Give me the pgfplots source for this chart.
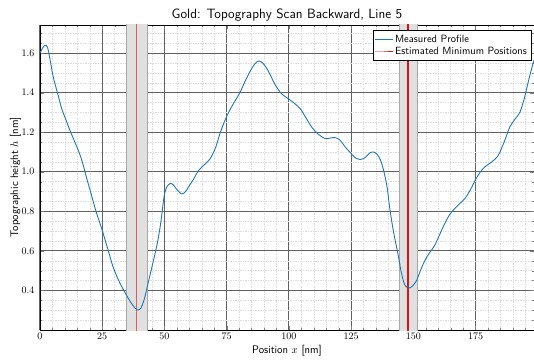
\documentclass[border=0pt]{standalone}
\usepackage{pgfplots}
\pgfplotsset{compat=1.18}
\definecolor{profileblue}{HTML}{1F77B4}
\definecolor{minredA}{HTML}{E05A5A}
\definecolor{minredB}{HTML}{E01010}
\definecolor{bandfill}{HTML}{E0E0E0}
\definecolor{bandedge}{HTML}{A8A8A8}
\begin{document}
\begin{tikzpicture}
\begin{axis}[
  scale only axis,
  width=494pt, height=305pt,
  xmin=0, xmax=198.5,
  ymin=0.2, ymax=1.742,
  xtick={0,25,50,75,100,125,150,175},
  ytick={0.4,0.6,0.8,1.0,1.2,1.4,1.6},
  minor xtick={5,10,15,20,30,35,40,45,55,60,65,70,80,85,90,95,105,110,115,120,
    130,135,140,145,155,160,165,170,180,185,190,195},
  minor ytick={0.25,0.3,0.35,0.45,0.5,0.55,0.65,0.7,0.75,0.85,0.9,0.95,
    1.05,1.1,1.15,1.25,1.3,1.35,1.45,1.5,1.55,1.65,1.7},
  yticklabel style={xshift=-2pt, /pgf/number format/fixed,
    /pgf/number format/fixed zerofill, /pgf/number format/precision=1},
  tick align=inside,
  major tick length=4pt, minor tick length=2pt,
  xtick pos=both, ytick pos=both,
  tick label style={font=\fontsize{10}{12}\selectfont},
  grid=both,
  major grid style={black!62, line width=1pt},
  minor grid style={black!13, dash pattern=on 1.5pt off 1pt, line width=0.4pt},
  axis line style={black, line width=0.8pt},
  title={\sffamily\fontsize{13.5}{16}\selectfont Gold: Topography Scan Backward, Line 5},
  title style={yshift=-6pt},
  xlabel={\sffamily\fontsize{11}{13}\selectfont Position $x$ [nm]},
  ylabel={\sffamily\fontsize{11}{13}\selectfont Topographic height $h$ [nm]},
  xlabel style={yshift=2pt},
  ylabel style={yshift=-6pt},
  legend style={at={(rel axis cs:0.994,0.982)}, anchor=north east,
    font=\sffamily\fontsize{10.5}{12}\selectfont,
    fill=white, inner sep=2pt, row sep=0pt},
  legend cell align=left,
]
% uncertainty bands around the estimated minima
\addplot[forget plot, draw=bandedge, line width=1pt, fill=bandfill]
  coordinates {(34.8,0) (34.8,2) (43.1,2) (43.1,0) (34.8,0)};
\addplot[forget plot, draw=bandedge, line width=1pt, fill=bandfill]
  coordinates {(144.3,0) (144.3,2) (151.6,2) (151.6,0) (144.3,0)};
% estimated minimum positions
\addplot[forget plot, minredA, line width=1.3pt] coordinates {(38.9,0) (38.9,2)};
\addplot[forget plot, minredB, line width=1.2pt] coordinates {(147.9,0) (147.9,2)};
% measured profile
\addplot[profileblue, line width=0.9pt, smooth] coordinates {
  (0,1.60) (1,1.625) (2,1.64) (3,1.63) (4,1.57) (5.3,1.48) (7,1.40) (8.7,1.32)
  (10.5,1.26) (12,1.21) (14,1.15) (15.5,1.105) (17,1.05) (18.7,0.97) (20.5,0.89)
  (22.5,0.80) (24.8,0.712) (27,0.62) (29.4,0.518) (32,0.44) (34.8,0.375) (37,0.33)
  (39,0.302) (40.5,0.31) (42,0.36) (43.5,0.44) (45,0.52) (47,0.63) (48.5,0.74)
  (49.8,0.87) (50.8,0.92) (52.2,0.94) (53.5,0.935) (55,0.91) (56.9,0.888) (58.5,0.90)
  (60,0.93) (61.6,0.96) (63.6,1.005) (66,1.035) (68.3,1.065) (70.5,1.12)
  (72.5,1.20) (75,1.28) (77.5,1.34) (80.3,1.40) (82.5,1.46) (84.5,1.51) (86.5,1.548)
  (88,1.56) (89.5,1.55) (91,1.525) (92.5,1.49) (94.5,1.44) (97,1.395) (99.7,1.37)
  (102,1.348) (104.5,1.32) (107,1.27) (109.5,1.22) (111.8,1.19) (114.5,1.168)
  (116.5,1.17) (118.5,1.173) (120.5,1.16) (123,1.12) (125.2,1.09) (127,1.068)
  (128.5,1.062) (130.5,1.07) (132.5,1.095) (133.9,1.10) (135.3,1.09) (136.8,1.06)
  (138.2,1.00) (139.5,0.92) (140.6,0.81) (142,0.70) (143.9,0.58) (145.2,0.49)
  (146.5,0.43) (147.9,0.412) (149.5,0.42) (151.3,0.45) (153,0.505) (154.6,0.55)
  (156.5,0.59) (158.6,0.628) (160.5,0.68) (162.7,0.74) (164.7,0.785) (166.7,0.815)
  (168.7,0.84) (170.7,0.864) (173,0.91) (175,0.96) (177,1.0) (178.7,1.024)
  (181.5,1.05) (184,1.08) (186.5,1.15) (188.8,1.227) (190.8,1.265) (192.8,1.30)
  (194.6,1.37) (196.1,1.45) (197.5,1.52) (198.5,1.565)
};
\addlegendentry{Measured Profile}
\addlegendimage{minredB, line width=1pt}
\addlegendentry{Estimated Minimum Positions}
\end{axis}
\pgfresetboundingbox
\path[use as bounding box] ([xshift=-40pt,yshift=-31pt]current axis.south west)
  rectangle ([yshift=25pt]current axis.north east);
\end{tikzpicture}
\end{document}
